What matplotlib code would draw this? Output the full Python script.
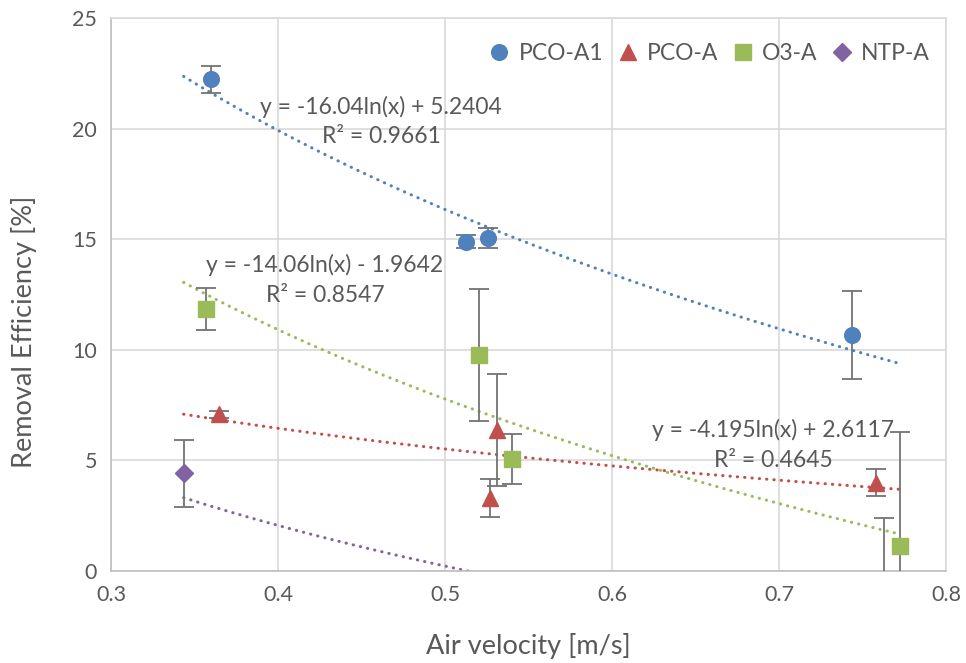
import matplotlib
matplotlib.use("Agg")
import matplotlib.pyplot as plt
import numpy as np

plt.rcParams['font.family'] = ['Lato', 'DejaVu Sans']

# ---- data ----
series_names = ["PCO-A1", "PCO-A", "O3-A", "NTP-A"]

pco_a1_x = [0.360, 0.5124, 0.5256, 0.7439]
pco_a1_y = [22.25, 14.90, 15.05, 10.68]
pco_a1_err = [0.6, 0.3, 0.45, 2.0]

pco_a_x = [0.3647, 0.527, 0.531, 0.758]
pco_a_y = [7.09, 3.29, 6.38, 4.00]
pco_a_err = [0.15, 0.85, 2.55, 0.6]

o3_a_x = [0.3567, 0.5205, 0.540, 0.7727]
o3_a_y = [11.84, 9.77, 5.07, 1.15]
o3_a_err = [0.95, 2.97, 1.12, 5.15]

ntp_a_x = [0.3435, 0.7627]
ntp_a_y = [4.42, -1.6]
ntp_a_err = [1.52, 4.0]

# logarithmic trendlines y = a*ln(x) + b
trend_a = [-16.04, -4.195, -14.06, -8.24]
trend_b = [5.2404, 2.6117, -1.9642, -5.49]
trend_labels = ["y = -16.04ln(x) + 5.2404\nR² = 0.9661",
                "y = -4.195ln(x) + 2.6117\nR² = 0.4645",
                "y = -14.06ln(x) - 1.9642\nR² = 0.8547",
                None]
label_pos = [(0.4617, 20.34), (0.6964, 5.70), (0.4281, 13.17), None]

x_ticks = [0.3, 0.4, 0.5, 0.6, 0.7, 0.8]
y_ticks = [0, 5, 10, 15, 20, 25]

colors = ["#4F81BD", "#C0504D", "#9BBB59", "#8064A2"]
markers = ["o", "^", "s", "D"]
msizes = [11.3, 11, 11, 9]

xs = [pco_a1_x, pco_a_x, o3_a_x, ntp_a_x]
ys = [pco_a1_y, pco_a_y, o3_a_y, ntp_a_y]
errs = [pco_a1_err, pco_a_err, o3_a_err, ntp_a_err]

fig = plt.figure(figsize=(9.66, 6.63), dpi=100)
ax = fig.add_axes([0.1149, 0.1388, 0.8644, 0.8333])

txt = "#595959"
xmin_all = min(min(x) for x in xs)
xmax_all = max(max(x) for x in xs)
xt = np.linspace(xmin_all, xmax_all, 300)

for i in range(4):
    yt = trend_a[i] * np.log(xt) + trend_b[i]
    ax.plot(xt, yt, color=colors[i], lw=2.2, linestyle=(0, (0.1, 2.3)),
            dash_capstyle='round', solid_capstyle='round', zorder=2)

for i in range(4):
    ax.errorbar(xs[i], ys[i], yerr=errs[i], fmt='none', ecolor="#737373",
                elinewidth=1.3, capsize=7, capthick=1.3, zorder=3)
    ax.plot(xs[i], ys[i], linestyle='none', marker=markers[i], ms=msizes[i],
            color=colors[i], markeredgecolor=colors[i], zorder=4,
            label=series_names[i])

for i in range(3):
    ax.text(label_pos[i][0], label_pos[i][1], trend_labels[i], ha='center',
            va='center', fontsize=16.5, color=txt, linespacing=1.5, zorder=5)

ax.set_xlim(0.3, 0.8)
ax.set_ylim(0, 25)
ax.set_xticks(x_ticks)
ax.set_yticks(y_ticks)
ax.set_xticklabels([f"{v:.1f}" for v in x_ticks])
ax.set_yticklabels([str(v) for v in y_ticks])
ax.grid(True, color="#D9D9D9", lw=1.2, zorder=0)
ax.set_axisbelow(True)
for s in ["top", "right"]:
    ax.spines[s].set_color("#D9D9D9")
    ax.spines[s].set_linewidth(1.2)
for s in ["left", "bottom"]:
    ax.spines[s].set_color("#BFBFBF")
    ax.spines[s].set_linewidth(1.2)
ax.tick_params(length=0, labelsize=15.5, labelcolor=txt, pad=10)

fig.text(528.5 / 966, 1 - 646 / 663, "Air velocity [m/s]", fontsize=19.5,
         color=txt, ha='center', va='center')
fig.text(24 / 966, 0.5, "Removal Efficiency [%]", fontsize=19.5,
         color=txt, ha='center', va='center', rotation=90)

leg = ax.legend(loc='upper right', ncol=4, frameon=False, fontsize=16.5,
                labelcolor=txt, handletextpad=0.35, columnspacing=0.55,
                handlelength=1.0, bbox_to_anchor=(1.0, 0.985), borderaxespad=0.3)

fig.savefig("out.png", dpi=100)
